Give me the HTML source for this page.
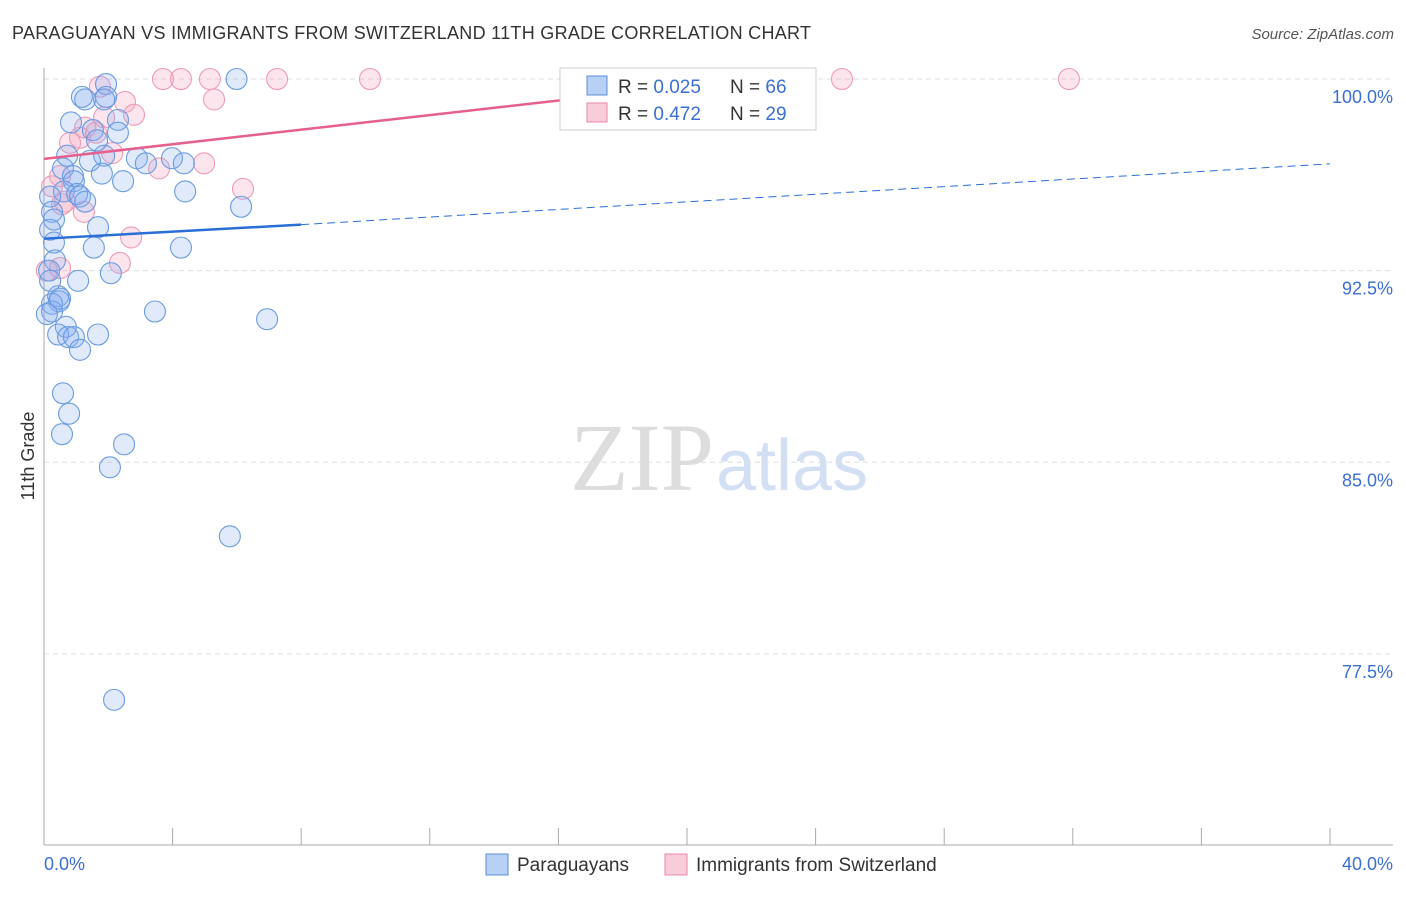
<!DOCTYPE html>
<html><head><meta charset="utf-8"><style>
body{margin:0;background:#fff;font-family:"Liberation Sans",sans-serif}
</style></head><body>
<svg id="chart" width="1406" height="892" xmlns="http://www.w3.org/2000/svg">
<text x="12" y="39" font-size="18" fill="#333" textLength="799">PARAGUAYAN VS IMMIGRANTS FROM SWITZERLAND 11TH GRADE CORRELATION CHART</text>
<text x="1394" y="39" font-size="15" fill="#555" font-style="italic" text-anchor="end">Source: ZipAtlas.com</text>
<text x="714" y="490" font-size="96" fill="#ddd" text-anchor="end" font-family="Liberation Serif">ZIP</text>
<text x="716" y="490" font-size="72" fill="#d3e0f3">atlas</text>
<text transform="translate(34,456) rotate(-90)" font-size="18" fill="#333" text-anchor="middle">11th Grade</text>
<g id="grid"></g><g id="pts"></g><g id="lines"></g>
<g id="legend">
<rect x="560" y="68" width="256" height="62" fill="#fff" stroke="#ccc"/>
<rect x="587" y="76" width="20" height="19" fill="#b7d0f3" stroke="#5b8fd9"/>
<rect x="587" y="103" width="20" height="19" fill="#f9ccd9" stroke="#e88aa8"/>
<text x="618" y="93" font-size="19" fill="#333">R = <tspan fill="#3b6fd4">0.025</tspan></text>
<text x="730" y="93" font-size="19" fill="#333">N = <tspan fill="#3b6fd4">66</tspan></text>
<text x="618" y="120" font-size="19" fill="#333">R = <tspan fill="#3b6fd4">0.472</tspan></text>
<text x="730" y="120" font-size="19" fill="#333">N = <tspan fill="#3b6fd4">29</tspan></text>
</g>
<text x="44" y="870" font-size="18" fill="#3b6fd4">0.0%</text>
<text x="1393" y="870" font-size="18" fill="#3b6fd4" text-anchor="end">40.0%</text>
<rect x="486" y="854" width="22" height="21" fill="#b7d0f3" stroke="#5b8fd9"/>
<text x="517" y="871" font-size="19" fill="#333">Paraguayans</text>
<rect x="665" y="854" width="22" height="21" fill="#f9ccd9" stroke="#e88aa8"/>
<text x="696" y="871" font-size="19" fill="#333">Immigrants from Switzerland</text>
</svg>
<script>
const yTicks=[100,92.5,85,77.5];
const blueX=[1.93,1.18,1.28,1.93,1.87,0.84,2.30,1.52,2.30,1.65,0.72,1.87,1.43,2.89,3.98,3.17,4.35,0.59,1.80,0.90,0.93,2.46,4.39,0.62,1.03,0.19,1.12,1.28,6.13,0.25,0.31,1.68,0.19,0.31,1.55,4.26,0.34,0.16,1.06,2.08,0.44,0.47,0.25,0.25,0.09,3.45,6.94,0.68,0.44,0.75,0.93,1.68,1.12,0.59,0.78,0.56,2.49,2.05,5.78,2.18,5.99,0.50,0.19];
const blueY=[99.8,99.3,99.2,99.3,99.2,98.3,98.4,98.0,97.9,97.6,97.0,97.0,96.8,96.9,96.9,96.7,96.7,96.5,96.3,96.2,96.0,96.0,95.6,95.6,95.5,95.4,95.4,95.2,95.0,94.8,94.5,94.2,94.1,93.6,93.4,93.4,92.9,92.5,92.1,92.4,91.5,91.3,91.2,90.9,90.8,90.9,90.6,90.3,90.0,89.9,89.9,90.0,89.4,87.7,86.9,86.1,85.7,84.8,82.1,75.7,100.0,91.4,92.1];
const pinkX=[3.70,4.26,5.16,7.25,10.14,24.82,31.88,1.74,5.29,2.52,2.80,1.87,2.12,1.28,0.81,1.12,1.62,0.50,0.25,0.56,1.24,3.58,4.98,6.19,2.71,2.36,0.09,0.50,0.65];
const pinkY=[100,100,100,100,100,100,100,99.7,99.2,99.1,98.6,98.5,97.1,98.1,97.5,97.7,97.9,96.2,95.8,95.1,94.8,96.5,96.7,95.7,93.8,92.8,92.5,92.6,95.2];
const blueLineX=[0,8.0,40];const blueLineY=[93.75,94.3,96.68];
const pinkLineX=[0,21.9];const pinkLineY=[96.875,100];
const X=v=>44+v/40*1286, Y=v=>79+(100-v)*25.55;
const ns="http://www.w3.org/2000/svg";
function mk(t,a,p){const e=document.createElementNS(ns,t);for(const k in a)e.setAttribute(k,a[k]);p.appendChild(e);return e;}
const g=document.getElementById('grid');
yTicks.forEach(t=>{
 const l=mk('line',{x1:44,x2:1393,y1:Y(t),y2:Y(t),stroke:'#ddd','stroke-dasharray':'5,4'},g);
 
 
 const tx=mk('text',{x:1393,y:Y(t)+24,'font-size':18,fill:'#3b6fd4','text-anchor':'end'},g);
 tx.textContent=t.toFixed(1)+'%';
 
 
});
const ax=mk('line',{x1:44,x2:44,y1:68,y2:845,stroke:'#aaa'},g);


const bx=mk('line',{x1:44,x2:1393,y1:845,y2:845,stroke:'#aaa'},g);


for(let i=0;i<=10;i++){const t=mk('line',{x1:X(i*4),x2:X(i*4),y1:828,y2:845,stroke:'#aaa'},g);
 
 }
const p=document.getElementById('pts');
pinkX.forEach((v,i)=>{const c=mk('circle',{cx:X(v),cy:Y(pinkY[i]),r:10.5,fill:'rgba(244,160,188,0.28)',stroke:'#ee9bb7','stroke-width':1.1},p);
 
 });
blueX.forEach((v,i)=>{const c=mk('circle',{cx:X(v),cy:Y(blueY[i]),r:10.5,fill:'rgba(130,172,238,0.25)',stroke:'#6a9be0','stroke-width':1.1},p);
 
 });
const L=document.getElementById('lines');
const b1=mk('line',{x1:X(blueLineX[0]),y1:Y(blueLineY[0]),x2:X(blueLineX[1]),y2:Y(blueLineY[1]),stroke:'#2a6fd6','stroke-width':2.5},L);


const b2=mk('line',{x1:X(blueLineX[1]),y1:Y(blueLineY[1]),x2:X(blueLineX[2]),y2:Y(blueLineY[2]),stroke:'#2a6fd6','stroke-width':1,'stroke-dasharray':'8,5'},L);


const p1=mk('line',{x1:X(pinkLineX[0]),y1:Y(pinkLineY[0]),x2:X(pinkLineX[1]),y2:Y(pinkLineY[1]),stroke:'#e5608f','stroke-width':2.5},L);


document.getElementById('chart').appendChild(document.getElementById('legend'));
</script>
</body></html>
